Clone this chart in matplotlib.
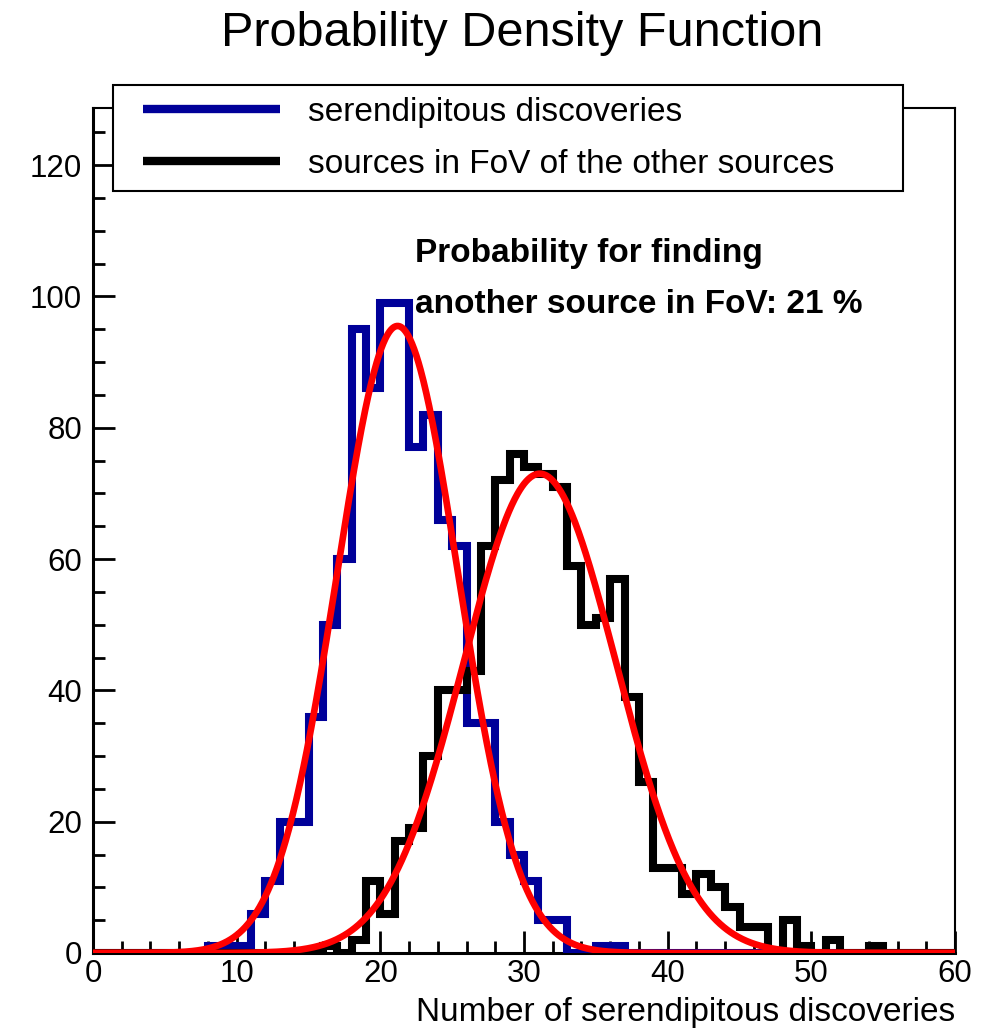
import numpy as np
import matplotlib
matplotlib.use("Agg")
import matplotlib.pyplot as plt
from matplotlib.lines import Line2D
from matplotlib.legend_handler import HandlerLine2D
from matplotlib.ticker import MultipleLocator

plt.rcParams["font.family"] = ["Liberation Sans", "DejaVu Sans"]

# histogram binning: 60 bins of width 1 from 0 to 60
bin_edges = np.arange(0, 61, 1)

# counts per bin (1000 entries each)
serendipitous_counts = [
    0, 0, 0, 0, 0, 0, 0, 0, 1, 1,
    1, 6, 11, 20, 20, 36, 50, 60, 95, 86,
    99, 99, 77, 82, 66, 62, 35, 35, 20, 15,
    11, 5, 5, 0, 0, 1, 1, 0, 0, 0,
    0, 0, 0, 0, 0, 0, 0, 0, 0, 0,
    0, 0, 0, 0, 0, 0, 0, 0, 0, 0,
]
other_fov_counts = [
    0, 0, 0, 0, 0, 0, 0, 0, 0, 0,
    0, 0, 0, 0, 0, 0, 1, 0, 2, 11,
    6, 17, 19, 30, 40, 40, 43, 62, 72, 76,
    74, 73, 71, 59, 50, 51, 57, 39, 26, 13,
    13, 9, 12, 10, 7, 4, 4, 0, 5, 1,
    0, 2, 0, 0, 1, 0, 0, 0, 0, 0,
]

# gaussian fit parameters: amplitude, mean, sigma
fit_serendipitous = (95.5, 21.2, 4.2)
fit_other_fov = (73.0, 31.1, 5.3)

legend_labels = ["serendipitous discoveries", "sources in FoV of the other sources"]
title = "Probability Density Function"
xlabel = "Number of serendipitous discoveries"
note_lines = ["Probability for finding", "another source in FoV: 21 %"]

BLUE = "#000099"
W, H = 985, 1029


def gaus(x, amp, mean, sigma):
    return amp * np.exp(-0.5 * ((x - mean) / sigma) ** 2)


def main():
    fig = plt.figure(figsize=(W / 100, H / 100), dpi=100)
    ax = fig.add_axes([93 / W, 1 - 953 / H, (955 - 93) / W, (953 - 108) / H])

    ax.stairs(serendipitous_counts, bin_edges, color=BLUE, lw=5.8,
              baseline=0, joinstyle="miter", zorder=3)
    ax.stairs(other_fov_counts, bin_edges, color="black", lw=5.8,
              baseline=0, joinstyle="miter", zorder=3)

    xs = np.linspace(bin_edges[0], bin_edges[-1], 1201)
    ax.plot(xs, gaus(xs, *fit_serendipitous), color="red", lw=4.8, zorder=4)
    ax.plot(xs, gaus(xs, *fit_other_fov), color="red", lw=4.8, zorder=4)

    ax.set_xlim(0, 60)
    ax.set_ylim(0, 128.7)
    ax.xaxis.set_major_locator(MultipleLocator(10))
    ax.xaxis.set_minor_locator(MultipleLocator(2))
    ax.yaxis.set_major_locator(MultipleLocator(20))
    ax.yaxis.set_minor_locator(MultipleLocator(5))
    ax.tick_params(which="both", direction="in", top=False, right=False,
                   width=2, labelsize=22.5)
    ax.tick_params(which="major", length=16)
    ax.tick_params(which="minor", length=8.5)
    ax.tick_params(axis="y", pad=8)
    ax.tick_params(axis="x", pad=4)
    for side in ["left", "bottom"]:
        ax.spines[side].set_linewidth(2.2)
    for side in ["top", "right"]:
        ax.spines[side].set_linewidth(1.5)

    ax.set_xlabel(xlabel, fontsize=24, loc="right", labelpad=6)

    ax.text(22.4, 106.6, note_lines[0], fontsize=24, fontweight="bold",
            ha="left", va="center")
    ax.text(22.4, 98.7, note_lines[1], fontsize=24, fontweight="bold",
            ha="left", va="center")

    fig.text(522 / W, 1 - 33 / H, title, fontsize=35, ha="center", va="center")

    handles = [
        Line2D([], [], color=BLUE, lw=6, solid_capstyle="butt"),
        Line2D([], [], color="black", lw=6, solid_capstyle="butt"),
    ]
    leg = ax.legend(
        handles, legend_labels,
        loc="upper left",
        bbox_to_anchor=(113 / W, 1 - 190 / H, (903 - 113) / W, 105 / H),
        bbox_transform=fig.transFigure,
        mode="expand",
        numpoints=2,
        borderaxespad=0,
        borderpad=0.35,
        handlelength=5.21,
        handletextpad=0.29,
        labelspacing=0.63,
        fontsize=24,
        fancybox=False,
        framealpha=1,
        edgecolor="black",
        handler_map={Line2D: HandlerLine2D(marker_pad=0.55)},
    )
    leg.get_frame().set_linewidth(1.5)
    leg.set_zorder(10)

    fig.savefig("out.png", dpi=100)
    plt.close(fig)


if __name__ == "__main__":
    main()
